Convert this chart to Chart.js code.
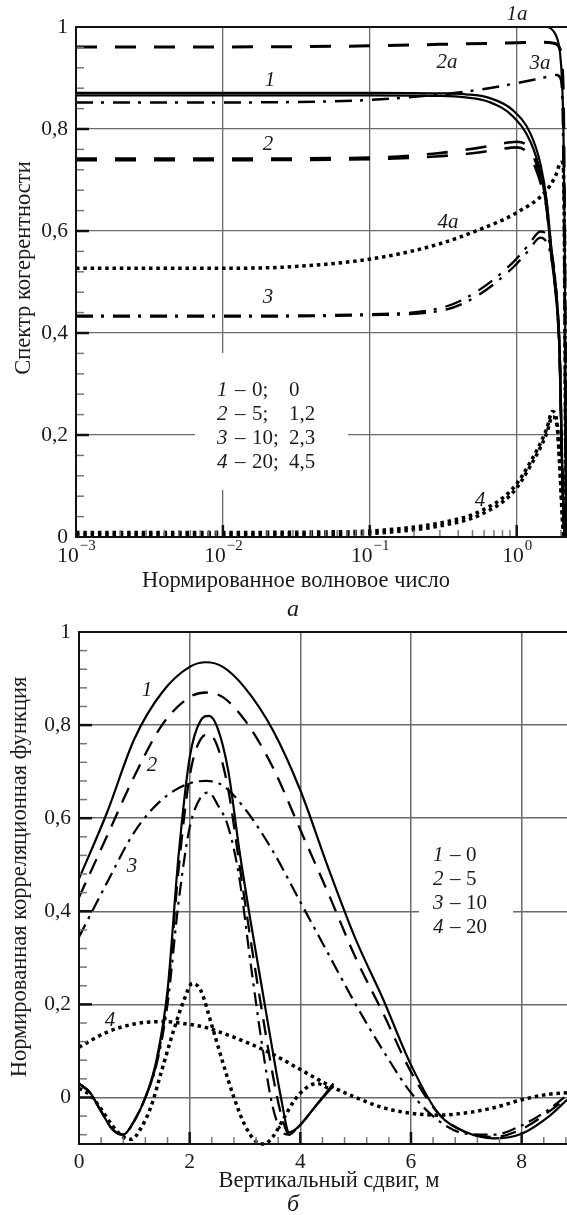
<!DOCTYPE html>
<html>
<head>
<meta charset="utf-8">
<script src="https://cdn.jsdelivr.net/npm/chart.js@4"></script>
<style>
    html, body { margin: 0; padding: 0; background: #fff; }
    #wrapA { position: absolute; left: 0; top: 0; width: 567px; height: 625px; }
    #wrapB { position: absolute; left: 0; top: 600px; width: 567px; height: 615px; }
    canvas { display: block; }
</style>
</head>
<body>
<div id="wrapA"><canvas id="chartA" width="567" height="625"></canvas></div>
<div id="wrapB"><canvas id="chartB" width="567" height="615"></canvas></div>
<script>
// ---- (а) спектр когерентности, ось x логарифмическая ----
const topXTicks = [0.001, 0.01, 0.1, 1];
const topXExp = ['−3', '−2', '−1', '0'];
const yTicks = [0, 0.2, 0.4, 0.6, 0.8, 1];
const yTickLabels = ['0', '0,2', '0,4', '0,6', '0,8', '1'];

const c1aX = [0.001, 0.1, 1, 1.6, 1.8, 1.9, 1.97, 2.03, 2.08, 2.12, 2.15, 2.18];
const c1aY = [1, 1, 1, 1, 0.99, 0.975, 0.95, 0.9, 0.8, 0.6, 0.3, 0];
const c2aX = [0.001, 0.01, 0.1, 0.3, 1, 1.5, 1.8, 1.95, 2.03, 2.08, 2.12, 2.15, 2.17];
const c2aY = [0.961, 0.961, 0.963, 0.966, 0.969, 0.97, 0.968, 0.96, 0.93, 0.85, 0.6, 0.3, 0];
const c3aX = [0.001, 0.01, 0.05, 0.1, 0.22, 0.56, 1, 1.6, 1.88, 1.98, 2.05, 2.1, 2.13, 2.16];
const c3aY = [0.852, 0.852, 0.854, 0.857, 0.864, 0.877, 0.89, 0.902, 0.906, 0.9, 0.85, 0.6, 0.3, 0];
const c4aX = [0.001, 0.01, 0.03, 0.117, 0.3, 0.56, 1, 1.6, 1.85, 2.0, 2.07, 2.11, 2.14, 2.17];
const c4aY = [0.527, 0.527, 0.53, 0.548, 0.575, 0.603, 0.636, 0.68, 0.71, 0.735, 0.73, 0.6, 0.3, 0];

const c1X = [0.001, 0.1, 0.3, 0.45, 0.65, 0.94, 1.245, 1.455, 1.6, 1.73, 1.88, 1.96, 2.03, 2.08, 2.12];
const c1Y = [0.871, 0.871, 0.87, 0.868, 0.861, 0.837, 0.79, 0.73, 0.66, 0.56, 0.466, 0.37, 0.17, 0.06, 0];
const c1bY = [0.866, 0.866, 0.865, 0.862, 0.853, 0.825, 0.774, 0.713, 0.643, 0.545, 0.45, 0.355, 0.155, 0.05, 0];
const c2X = [0.001, 0.01, 0.1, 0.28, 0.55, 0.75, 1.0, 1.2, 1.35, 1.5, 1.6, 1.73, 1.88, 1.96, 2.03, 2.08, 2.12];
const c2Y = [0.742, 0.742, 0.744, 0.752, 0.763, 0.77, 0.775, 0.765, 0.735, 0.69, 0.652, 0.553, 0.46, 0.363, 0.163, 0.053, 0];
const c2bY = [0.739, 0.739, 0.741, 0.746, 0.754, 0.76, 0.764, 0.752, 0.722, 0.68, 0.643, 0.545, 0.452, 0.355, 0.155, 0.047, 0];
const c3X = [0.001, 0.01, 0.1, 0.33, 0.56, 0.94, 1.2, 1.45, 1.6, 1.7, 1.8, 1.88, 1.96, 2.03, 2.08, 2.12];
const c3Y = [0.434, 0.434, 0.437, 0.452, 0.485, 0.538, 0.572, 0.599, 0.592, 0.57, 0.525, 0.462, 0.365, 0.165, 0.055, 0];
const c3bY = [0.432, 0.432, 0.435, 0.446, 0.476, 0.528, 0.561, 0.587, 0.578, 0.556, 0.515, 0.455, 0.358, 0.158, 0.05, 0];
const c4X = [0.001, 0.01, 0.05, 0.117, 0.33, 0.56, 0.94, 1.245, 1.6, 1.75, 1.88, 1.96, 2.03, 2.08];
const c4Y = [0.009, 0.009, 0.01, 0.013, 0.03, 0.05, 0.095, 0.148, 0.212, 0.246, 0.226, 0.15, 0.06, 0];
const c4bY = [0.004, 0.004, 0.005, 0.008, 0.024, 0.043, 0.087, 0.14, 0.203, 0.236, 0.218, 0.143, 0.055, 0];

// ---- (б) корреляционная функция ----
const botXTicks = [0, 2, 4, 6, 8];
const botXLabels = ['0', '2', '4', '6', '8'];

const wideX = [0, 0.5, 1, 1.5, 2, 2.3, 2.6, 3, 3.5, 4, 4.5, 5, 5.5, 6, 6.5, 7, 7.5, 8, 8.5, 8.82];
const w1 = [0.47, 0.61, 0.77, 0.87, 0.925, 0.935, 0.925, 0.88, 0.79, 0.66, 0.495, 0.34, 0.21, 0.07, -0.035, -0.075, -0.088, -0.078, -0.04, -0.005];
const w2 = [0.43, 0.56, 0.69, 0.8, 0.86, 0.87, 0.86, 0.81, 0.71, 0.575, 0.44, 0.3, 0.18, 0.055, -0.035, -0.075, -0.085, -0.068, -0.03, 0.0];
const w3 = [0.345, 0.46, 0.57, 0.64, 0.675, 0.68, 0.67, 0.62, 0.53, 0.42, 0.31, 0.2, 0.1, 0.01, -0.05, -0.078, -0.08, -0.06, -0.025, 0.005];
const w4 = [0.108, 0.14, 0.158, 0.163, 0.157, 0.15, 0.138, 0.12, 0.093, 0.06, 0.027, 0.0, -0.022, -0.034, -0.038, -0.033, -0.022, -0.005, 0.007, 0.01];

const narrowX = [0, 0.2, 0.4, 0.6, 0.8, 1.0, 1.2, 1.4, 1.6, 1.8, 2.0, 2.2, 2.35, 2.5, 2.7, 2.9, 3.1, 3.3, 3.5, 3.65, 3.8, 3.95, 4.1, 4.3, 4.6];
const n1 = [0.03, 0.01, -0.03, -0.068, -0.08, -0.05, 0.0, 0.08, 0.23, 0.52, 0.73, 0.81, 0.82, 0.795, 0.7, 0.53, 0.38, 0.24, 0.1, 0.0, -0.075, -0.065, -0.045, -0.015, 0.03];
const n2 = [0.03, 0.01, -0.03, -0.068, -0.08, -0.05, 0.0, 0.075, 0.22, 0.49, 0.69, 0.77, 0.78, 0.755, 0.66, 0.5, 0.34, 0.19, 0.05, -0.035, -0.08, -0.065, -0.045, -0.015, 0.025];
const n3 = [0.03, 0.01, -0.03, -0.068, -0.08, -0.05, 0.0, 0.07, 0.2, 0.42, 0.58, 0.645, 0.655, 0.63, 0.58, 0.47, 0.29, 0.12, -0.02, -0.07, -0.08, -0.065, -0.045, -0.015, 0.025];
const n4X = [0, 0.2, 0.4, 0.6, 0.8, 0.95, 1.1, 1.3, 1.5, 1.7, 1.9, 2.05, 2.2, 2.4, 2.6, 2.8, 3.0, 3.2, 3.35, 3.5, 3.7, 3.9, 4.1, 4.3, 4.5];
const n4 = [0.02, 0.005, -0.025, -0.06, -0.085, -0.09, -0.07, -0.02, 0.06, 0.14, 0.21, 0.245, 0.23, 0.155, 0.075, 0.0, -0.06, -0.095, -0.1, -0.085, -0.045, -0.005, 0.02, 0.03, 0.02];

// curve labels, placed in data coordinates
const labelsA = [['1', 0.0209, 0.896], ['2', 0.0203, 0.769], ['3', 0.0203, 0.469], ['4', 0.562, 0.072],
                 ['1а', 1.005, 1.025], ['2а', 0.336, 0.931], ['3а', 1.44, 0.929], ['4а', 0.341, 0.616]];
const labelsB = [['1', 1.23, 0.875], ['2', 1.32, 0.714], ['3', 0.96, 0.497], ['4', 0.56, 0.166]];
const legendA = [['1', '0;', '0'], ['2', '5;', '1,2'], ['3', '10;', '2,3'], ['4', '20;', '4,5']];
const legendB = [['1', '0'], ['2', '5'], ['3', '10'], ['4', '20']];

const SERIF = '"Liberation Serif", "Times New Roman", serif';
const INK = '#1a1a1a';
const GRID = '#6a6a6a';
const TICK_SIZE = 21.5;
const TITLE_SIZE = 22.5;

const pts = (xs, ys) => xs.map((x, i) => ({ x: x, y: ys[i] }));

function line(xs, ys, dash, width) {
    return {
        data: pts(xs, ys),
        borderColor: '#000',
        borderWidth: width,
        borderDash: dash,
        pointRadius: 0,
        cubicInterpolationMode: 'monotone',
        clip: false,
        fill: false
    };
}

function text(ctx, str, x, y, size, italic, align) {
    ctx.font = (italic ? 'italic ' : '') + size + 'px ' + SERIF;
    ctx.textAlign = align || 'left';
    ctx.textBaseline = 'middle';
    ctx.fillStyle = INK;
    ctx.fillText(str, x, y);
}

function frame(ctx, a) {
    ctx.save();
    ctx.strokeStyle = '#111';
    ctx.lineWidth = 2;
    ctx.beginPath();
    ctx.moveTo(a.right + 2, a.top);
    ctx.lineTo(a.left, a.top);
    ctx.lineTo(a.left, a.bottom);
    ctx.lineTo(a.right + 2, a.bottom);
    ctx.stroke();
    ctx.restore();
}

// small inward ticks
function tickH(ctx, x, y, major) {
    ctx.strokeStyle = major ? '#111' : '#777';
    ctx.lineWidth = major ? 2.5 : 1.5;
    ctx.beginPath(); ctx.moveTo(x, y); ctx.lineTo(x + (major ? 13 : 8), y); ctx.stroke();
}
function tickV(ctx, x, y, major) {
    ctx.strokeStyle = major ? '#111' : '#777';
    ctx.lineWidth = major ? 2.5 : 1.5;
    ctx.beginPath(); ctx.moveTo(x, y); ctx.lineTo(x, y - (major ? 12 : 7)); ctx.stroke();
}

function yTitle(ctx, str, x, y) {
    ctx.save();
    ctx.translate(x, y);
    ctx.rotate(-Math.PI / 2);
    text(ctx, str, 0, 0, TITLE_SIZE, false, 'center');
    ctx.restore();
}

const decoA = {
    id: 'decoA',
    beforeDatasetsDraw(chart) {
        const ctx = chart.ctx;
        ctx.save();
        ctx.fillStyle = '#fff';
        ctx.fillRect(195, 353, 153, 137); // legend box hides the grid
        ctx.restore();
    },
    afterDatasetsDraw(chart) {
        const { ctx, chartArea: a, scales: { x, y } } = chart;
        ctx.save();
        for (let i = 1; i < 25; i++) {
            tickH(ctx, a.left, y.getPixelForValue(i * 0.04), i % 5 === 0);
        }
        for (const d of [-3, -2, -1, 0]) {
            for (let m = 1; m <= 9; m++) {
                const v = m * Math.pow(10, d);
                if (v <= 0.0011 || v > 2.2) continue;
                tickV(ctx, x.getPixelForValue(v), a.bottom, m === 1);
            }
        }
        ctx.restore();
        frame(ctx, a);
    },
    afterDraw(chart) {
        const { ctx, scales: { x, y } } = chart;
        ctx.save();
        // x tick labels 10^n
        topXTicks.forEach((v, i) => {
            const cx = x.getPixelForValue(v);
            ctx.font = TICK_SIZE + 'px ' + SERIF;
            const wb = ctx.measureText('10').width;
            ctx.font = '15px ' + SERIF;
            const we = ctx.measureText(topXExp[i]).width;
            const x0 = cx - (wb + we) / 2;
            text(ctx, '10', x0, 556, TICK_SIZE, false, 'left');
            text(ctx, topXExp[i], x0 + wb + 1, 546, 15, false, 'left');
        });
        text(ctx, 'Нормированное волновое число', 296, 581, TITLE_SIZE, false, 'center');
        text(ctx, 'а', 293, 610, 24, true, 'center');
        yTitle(ctx, 'Спектр когерентности', 24, 268);
        legendA.forEach((r, i) => {
            const ly = 390 + i * 24;
            text(ctx, r[0], 217, ly, 21, true);
            text(ctx, '–', 235, ly, 21, false);
            text(ctx, r[1], 252, ly, 21, false);
            text(ctx, r[2], 289, ly, 21, false);
        });
        labelsA.forEach(l => {
            text(ctx, l[0], x.getPixelForValue(l[1]), y.getPixelForValue(l[2]), 21, true, 'center');
        });
        ctx.restore();
    }
};

const decoB = {
    id: 'decoB',
    beforeDatasetsDraw(chart) {
        const ctx = chart.ctx;
        ctx.save();
        ctx.fillStyle = '#fff';
        ctx.fillRect(419, 240, 94, 100);
        ctx.restore();
    },
    afterDatasetsDraw(chart) {
        const { ctx, chartArea: a, scales: { x, y } } = chart;
        ctx.save();
        for (let i = -2; i < 25; i++) {
            tickH(ctx, a.left, y.getPixelForValue(i * 0.04), i % 5 === 0);
        }
        for (let i = 1; i <= 22; i++) {
            tickV(ctx, x.getPixelForValue(i * 0.4), a.bottom, i % 5 === 0);
        }
        ctx.restore();
        frame(ctx, a);
    },
    afterDraw(chart) {
        const { ctx, scales: { x, y } } = chart;
        ctx.save();
        text(ctx, 'Вертикальный сдвиг, м', 329, 581, TITLE_SIZE, false, 'center');
        text(ctx, 'б', 293, 605, 24, true, 'center');
        yTitle(ctx, 'Нормированная корреляционная функция', 20, 277);
        legendB.forEach((r, i) => {
            const ly = 255 + i * 24;
            text(ctx, r[0], 433, ly, 21, true);
            text(ctx, '–', 450, ly, 21, false);
            text(ctx, r[1], 466, ly, 21, false);
        });
        labelsB.forEach(l => {
            text(ctx, l[0], x.getPixelForValue(l[1]), y.getPixelForValue(l[2]), 21, true, 'center');
        });
        ctx.restore();
    }
};

const DASH = [21, 18];
const DASHDOT = [17, 8, 3, 9];
const DOT = [3.5, 3.8];

new Chart(document.getElementById('chartA'), {
    type: 'line',
    data: {
        datasets: [
            line(c1aX, c1aY, [], 2.2),
            line(c2aX, c2aY, DASH, 3),
            line(c3aX, c3aY, DASHDOT, 2.5),
            line(c4aX, c4aY, DOT, 3.5),
            line(c1X, c1Y, [], 2.2),
            line(c1X, c1bY, [], 2.2),
            line(c2X, c2Y, DASH, 2.6),
            line(c2X, c2bY, DASH, 2.6),
            line(c3X, c3Y, DASHDOT, 2.3),
            line(c3X, c3bY, DASHDOT, 2.3),
            line(c4X, c4Y, DOT, 3.5),
            line(c4X, c4bY, DOT, 3.5)
        ]
    },
    options: {
        responsive: false,
        animation: false,
        events: [],
        layout: { padding: { top: 27, left: 0, right: 0, bottom: 0 } },
        plugins: { legend: { display: false }, tooltip: { enabled: false } },
        scales: {
            x: {
                type: 'logarithmic',
                min: 0.001,
                max: 2.2,
                afterBuildTicks: ax => { ax.ticks = topXTicks.map(v => ({ value: v })); },
                afterFit: ax => { ax.height = 625 - 537; },
                ticks: { display: false },
                grid: { color: GRID, lineWidth: 1.3, drawTicks: false },
                border: { display: false }
            },
            y: {
                min: 0,
                max: 1,
                afterBuildTicks: ax => { ax.ticks = yTicks.map(v => ({ value: v })); },
                afterFit: ax => { ax.width = 76; },
                ticks: {
                    callback: (v, i) => yTickLabels[i],
                    font: { family: SERIF, size: TICK_SIZE },
                    color: INK,
                    padding: 8
                },
                grid: { color: GRID, lineWidth: 1.3, drawTicks: false },
                border: { display: false }
            }
        }
    },
    plugins: [decoA]
});

const DASH_B = [16, 10];
const DASHDOT_B = [14, 6, 3, 6];

new Chart(document.getElementById('chartB'), {
    type: 'line',
    data: {
        datasets: [
            line(wideX, w1, [], 2.2),
            line(wideX, w2, DASH_B, 2.3),
            line(wideX, w3, DASHDOT_B, 2.2),
            line(wideX, w4, DOT, 3.5),
            line(narrowX, n1, [], 2.2),
            line(narrowX, n2, DASH_B, 2.3),
            line(narrowX, n3, DASHDOT_B, 2.2),
            line(n4X, n4, DOT, 3.5)
        ]
    },
    options: {
        responsive: false,
        animation: false,
        events: [],
        layout: { padding: { top: 32, left: 0, right: 0, bottom: 0 } },
        plugins: { legend: { display: false }, tooltip: { enabled: false } },
        scales: {
            x: {
                type: 'linear',
                min: 0,
                max: 8.82,
                afterBuildTicks: ax => { ax.ticks = botXTicks.map(v => ({ value: v })); },
                afterFit: ax => { ax.height = 615 - 544; },
                ticks: {
                    callback: (v, i) => botXLabels[i],
                    font: { family: SERIF, size: TICK_SIZE },
                    color: INK,
                    padding: 5,
                    maxRotation: 0,
                    autoSkip: false
                },
                grid: { color: GRID, lineWidth: 1.5, drawTicks: false },
                border: { display: false }
            },
            y: {
                min: -0.1,
                max: 1,
                afterBuildTicks: ax => { ax.ticks = yTicks.map(v => ({ value: v })); },
                afterFit: ax => { ax.width = 79; },
                ticks: {
                    callback: (v, i) => yTickLabels[i],
                    font: { family: SERIF, size: TICK_SIZE },
                    color: INK,
                    padding: 8
                },
                grid: { color: GRID, lineWidth: 1.5, drawTicks: false },
                border: { display: false }
            }
        }
    },
    plugins: [decoB]
});
</script>
</body>
</html>
